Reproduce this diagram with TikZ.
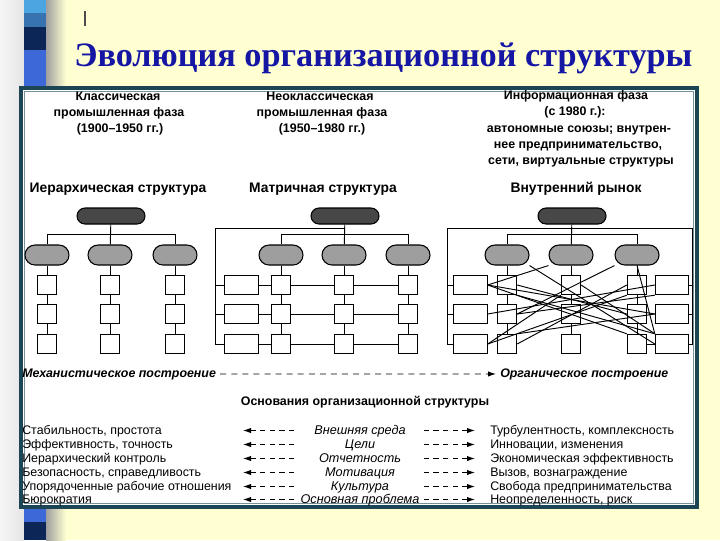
\documentclass[tikz,border=0pt]{standalone}
\usepackage{fontspec}
\setmainfont{Liberation Sans}
\newfontfamily\titlefont{Liberation Serif}
\usetikzlibrary{shapes, arrows.meta, calc, positioning}

\definecolor{slidebg}{RGB}{255,255,210}
\definecolor{titleblue}{RGB}{22,22,165}
\definecolor{framecol}{RGB}{28,70,86}
\definecolor{stripA}{RGB}{75,165,225}
\definecolor{stripB}{RGB}{55,115,175}
\definecolor{stripC}{RGB}{12,38,88}
\definecolor{stripD}{RGB}{60,105,215}

\begin{document}
\begin{tikzpicture}[x=0.75pt, y=-0.75pt, >=Latex, font=\fontsize{9.3}{11}\selectfont,
    topoval/.style={draw, line width=0.8pt, fill=black!72, rounded corners=6pt,
      minimum width=51pt, minimum height=12pt, inner sep=0pt},
    midoval/.style={draw, line width=0.8pt, fill=black!38, rounded corners=7.5pt,
      minimum width=33pt, minimum height=15pt, inner sep=0pt},
    unit/.style={draw, line width=0.8pt, fill=white, minimum width=14.5pt,
      minimum height=14.5pt, inner sep=0pt},
    wideunit/.style={unit, minimum width=25pt},
    link/.style={line width=0.7pt},
    head/.style={font=\fontsize{9.3}{11}\selectfont\bfseries, anchor=base},
    struct/.style={font=\fontsize{10.4}{12}\selectfont\bfseries, anchor=base},
    dashlink/.style={line width=0.7pt, dash pattern=on 4.5pt off 3.8pt},
    tabdash/.style={line width=0.7pt, dash pattern=on 4pt off 3.2pt}]

    \useasboundingbox (0,0) rectangle (720,540);
    \fill[slidebg] (0,0) rectangle (720,540);

    % left strip
    \shade[left color=white!92!gray, right color=white!80!gray] (0,0) rectangle (24,540);
    \fill[stripA] (24,0) rectangle (46,13);
    \fill[stripB] (24,13) rectangle (46,27);
    \fill[stripC] (24,27) rectangle (46,50);
    \fill[stripD] (24,50) rectangle (46,522);
    \fill[stripC] (24,522) rectangle (46,540);
    \shade[left color=gray!75, right color=slidebg] (46,0) rectangle (66,540);
    \draw[black!70, line width=0.8pt] (85,11) -- (85,26);

    % title
    \node[anchor=base west, text=titleblue, font=\titlefont\bfseries\fontsize{25.7}{30}\selectfont,
      inner sep=0pt] (title) at (74,66) {Эволюция организационной структуры};

    % frame
    \draw[framecol, line width=2.6pt, fill=white] (21,88) rectangle (697,507);
    \draw[framecol!60, line width=0.5pt] (24.5,91.5) rectangle (693.5,503.5);

    % phase headings
    \node[head] (ph1a) at (118,100) {Классическая};
    \node[head] (ph1b) at (119,116) {промышленная фаза};
    \node[head] (ph1c) at (120,132) {(1900--1950 гг.)};
    \node[head] (ph2a) at (320,100) {Неоклассическая};
    \node[head] (ph2b) at (322,116) {промышленная фаза};
    \node[head] (ph2c) at (322,132) {(1950--1980 гг.)};
    \node[head] (ph3a) at (576,99) {Информационная фаза};
    \node[head] (ph3b) at (575,115) {(с 1980 г.):};
    \node[head] (ph3c) at (579,132) {автономные союзы; внутрен-};
    \node[head] (ph3d) at (578,148) {нее предпринимательство,};
    \node[head] (ph3e) at (581,164) {сети, виртуальные структуры};

    \node[struct] (hier) at (118,192) {Иерархическая структура};
    \node[struct] (matr) at (323,192) {Матричная структура};
    \node[struct] (mark) at (576,192) {Внутренний рынок};

    % hierarchy
    \node[topoval] (h-top) at (111,216) {};
    \foreach \i/\x in {1/47, 2/110, 3/175} {
        \node[midoval] (h-o\i) at (\x,255) {};
        \foreach \j/\y in {1/285, 2/314, 3/344} {
            \node[unit] (h-s\i-\j) at (\x,\y) {};
        }
        \draw[link] (h-o\i) -- (h-s\i-1) -- (h-s\i-2) -- (h-s\i-3);
    }
    \draw[link] (h-top) -- (h-o2);
    \draw[link] (h-o1.north) -- ++(0,-10) -| (h-o3.north);

    % matrix
    \node[topoval] (m-top) at (345,216) {};
    \foreach \i/\x in {1/281, 2/344, 3/408} {
        \node[midoval] (m-o\i) at (\x,255) {};
        \foreach \j/\y in {1/285, 2/314, 3/344} {
            \node[unit] (m-s\i-\j) at (\x,\y) {};
        }
        \draw[link] (m-o\i) -- (m-s\i-1) -- (m-s\i-2) -- (m-s\i-3);
    }
    \foreach \j/\y in {1/285, 2/314, 3/344} {
        \node[wideunit] (m-w\j) at (241.5,\y) {};
        \draw[link] (m-w\j) -- (m-s1-\j) -- (m-s2-\j) -- (m-s3-\j);
    }
    \draw[link] (m-top) -- (m-o2);
    \draw[link] (m-o1.north) -- ++(0,-10) -| (m-o3.north);
    \coordinate (m-corner) at (215,228);
    \draw[link] (m-top.south |- m-corner) -- (m-corner) -- (m-corner |- m-w3) -- (m-w3.west);
    \draw[link] (m-corner |- m-w1) -- (m-w1.west);
    \draw[link] (m-corner |- m-w2) -- (m-w2.west);

    % internal market
    \node[topoval] (r-top) at (572,216) {};
    \foreach \i/\x in {1/507, 2/571, 3/637} {
        \node[midoval] (r-o\i) at (\x,255) {};
        \foreach \j/\y in {1/285, 2/314, 3/344} {
            \node[unit] (r-s\i-\j) at (\x,\y) {};
        }
        \draw[link] (r-o\i) -- (r-s\i-1) -- (r-s\i-2) -- (r-s\i-3);
    }
    \foreach \j/\y in {1/285, 2/314, 3/344} {
        \node[wideunit] (r-L\j) at (470.5,\y) {};
        \node[wideunit] (r-R\j) at (672,\y) {};
    }
    \draw[link] (r-top) -- (r-o2);
    \draw[link] (r-o1.north) -- ++(0,-10) -| (r-o3.north);
    \coordinate (r-lcorner) at (447,228);
    \coordinate (r-rcorner) at (692,228);
    \draw[link] (r-lcorner) -- (r-rcorner);
    \draw[link] (r-lcorner) -- (r-lcorner |- r-L3) -- (r-L3.west);
    \draw[link] (r-rcorner) -- (r-rcorner |- r-R3) -- (r-R3.east);
    \foreach \j in {1, 2} {
        \draw[link] (r-lcorner |- r-L\j) -- (r-L\j.west);
        \draw[link] (r-rcorner |- r-R\j) -- (r-R\j.east);
    }
    % crossing links
    \draw[link] (r-o1.south east) -- (r-R3.west);
    \draw[link] (r-o2.south west) -- (r-L1.east);
    \draw[link] (r-o3.south west) -- (r-s1-2.east);
    \draw[link] (r-o3.south) -- (r-R3.north west);
    \draw[link] (r-L1.east) -- (r-R2.west);
    \draw[link] (r-L1.east) -- (r-s3-3.north west);
    \draw[link] (r-L2.east) -- (r-R1.west);
    \draw[link] (r-L3.east) -- (r-s3-1.south west);
    \draw[link] (r-L3.east) -- (r-s2-1.south west);
    \draw[link] (r-s1-1.east) -- (r-s3-2.west);
    \draw[link] (r-s1-2.east) -- (r-R1.south west);
    \draw[link] (r-s1-3.east) -- (r-s3-1.west);
    \draw[link] (r-s1-1.south east) -- (r-R3.north west);
    \draw[link] (r-s1-3.north east) -- (r-R2.west);
    \draw[link] (r-s2-1.east) -- (r-R3.north west);
    \draw[link] (r-s3-3) -- (r-R3);

    % axis of evolution
    \node[anchor=base west, inner sep=0pt, font=\fontsize{9.3}{11}\selectfont\bfseries\itshape] (mech) at (22,377)
      {Механистическое построение};
    \node[anchor=base west, inner sep=0pt, font=\fontsize{9.3}{11}\selectfont\bfseries\itshape] (orga) at (500,377)
      {Органическое построение};
    \draw[dashlink, -{Latex[length=6pt, width=4pt]}] ([xshift=3pt]mech.east) -- ([xshift=-3pt]orga.west);

    \node[anchor=base, font=\fontsize{9.3}{11}\selectfont\bfseries] (basis) at (365,405)
      {Основания организационной структуры};

    % table of foundations
    \foreach \n/\y/\left/\mid/\right in {
        1/434/{Стабильность, простота}/{Внешняя среда}/{Турбулентность, комплексность},
        2/448/{Эффективность, точность}/{Цели}/{Инновации, изменения},
        3/462/{Иерархический контроль}/{Отчетность}/{Экономическая эффективность},
        4/476/{Безопасность, справедливость}/{Мотивация}/{Вызов, вознаграждение},
        5/490/{Упорядоченные рабочие отношения}/{Культура}/{Свобода предпринимательства},
        6/503/{Бюрократия}/{Основная проблема}/{Неопределенность, риск}} {
        \node[anchor=base west, inner sep=0pt] (left\n) at (22,\y) {\left};
        \node[anchor=base, inner sep=0pt, font=\fontsize{9.5}{11}\selectfont\itshape] (mid\n) at (360,\y) {\mid};
        \node[anchor=base west, inner sep=0pt] (right\n) at (490,\y) {\right};
        \coordinate (la\n) at (243,\y-3.5);
        \coordinate (ra\n) at (475,\y-3.5);
        \draw[tabdash, {Latex[length=6pt, width=4pt]}-] (la\n) -- ++(52,0);
        \draw[tabdash, {Latex[length=6pt, width=4pt]}-] (ra\n) -- ++(-52,0);
    }
\end{tikzpicture}
\end{document}
